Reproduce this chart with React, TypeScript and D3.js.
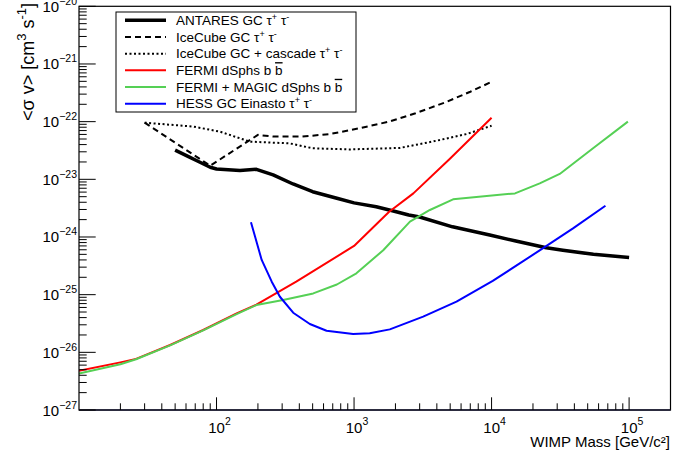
import * as d3 from "d3"

// ---- data ----
const antaresMass = [50, 62, 72, 90, 100, 148, 195, 258, 360, 500, 750, 1000, 1450, 1900, 2500, 3000, 5200, 9700, 15000, 25000, 33000, 55000, 100000]
const antaresSigma = [3.2e-23, 2.5e-23, 2.1e-23, 1.62e-23, 1.51e-23, 1.42e-23, 1.49e-23, 1.19e-23, 8.3e-24, 6.1e-24, 4.7e-24, 3.9e-24, 3.35e-24, 2.85e-24, 2.4e-24, 2.22e-24, 1.5e-24, 1.08e-24, 8.5e-25, 6.5e-25, 5.9e-25, 5.0e-25, 4.4e-25]

const icecubeMass = [30, 90, 200, 260, 420, 670, 1100, 1800, 2800, 4700, 7000, 10000]
const icecubeSigma = [9.6e-23, 1.72e-23, 5.9e-23, 5.5e-23, 5.5e-23, 6.1e-23, 7.7e-23, 1.0e-22, 1.4e-22, 2.2e-22, 3.3e-22, 4.9e-22]

const cascadeMass = [30, 68, 106, 175, 340, 500, 930, 2150, 3700, 6600, 10000]
const cascadeSigma = [9.6e-23, 8.2e-23, 6.7e-23, 4.5e-23, 4.2e-23, 3.45e-23, 3.3e-23, 3.5e-23, 4.5e-23, 6.1e-23, 8.5e-23]

const fermiMass = [10, 20, 26, 46, 80, 140, 195, 380, 1000, 1800, 2700, 5000, 10000]
const fermiSigma = [4.8e-27, 6.7e-27, 7.7e-27, 1.34e-26, 2.44e-26, 4.75e-26, 6.7e-26, 1.68e-25, 7.0e-25, 2.74e-24, 5.7e-24, 2.3e-23, 1.17e-22]

const magicMass = [10, 20, 26, 46, 80, 140, 195, 305, 505, 750, 1040, 1630, 2550, 3560, 5250, 14800, 22400, 31300, 54700, 98000]
const magicSigma = [4.3e-27, 6.2e-27, 7.6e-27, 1.32e-26, 2.4e-26, 4.6e-26, 6.6e-26, 8.1e-26, 1.05e-25, 1.5e-25, 2.34e-25, 5.9e-25, 1.85e-24, 2.94e-24, 4.5e-24, 5.7e-24, 8.5e-24, 1.24e-23, 3.45e-23, 1.0e-22]

const hessMass = [178, 213, 252, 289, 361, 477, 631, 985, 1300, 1820, 3180, 5560, 10200, 23700, 39100, 67300]
const hessSigma = [1.8e-24, 4.0e-25, 1.68e-25, 9.2e-26, 4.86e-26, 3.1e-26, 2.37e-26, 2.08e-26, 2.14e-26, 2.5e-26, 4.15e-26, 7.55e-26, 1.73e-25, 6.4e-25, 1.41e-24, 3.48e-24]

const xDecades = [2, 3, 4, 5]
const yDecades = [-27, -26, -25, -24, -23, -22, -21, -20]

const font = "'Liberation Sans', Arial, Helvetica, sans-serif"

const series = [
  { mass: antaresMass, sigma: antaresSigma, color: "#000000", width: 3.5, dash: "", label: "ANTARES GC", ch: "tau" },
  { mass: icecubeMass, sigma: icecubeSigma, color: "#000000", width: 2, dash: "6,4", label: "IceCube GC", ch: "tau" },
  { mass: cascadeMass, sigma: cascadeSigma, color: "#000000", width: 2, dash: "2,2.5", label: "IceCube GC + cascade", ch: "tau" },
  { mass: fermiMass, sigma: fermiSigma, color: "#ff0000", width: 2, dash: "", label: "FERMI dSphs", ch: "bb" },
  { mass: magicMass, sigma: magicSigma, color: "#55d055", width: 2, dash: "", label: "FERMI + MAGIC dSphs", ch: "bb" },
  { mass: hessMass, sigma: hessSigma, color: "#0000ff", width: 2, dash: "", label: "HESS GC Einasto", ch: "tau" },
]

const left = 79
const right = 670.5
const top = 6.3
const bottom = 410

const App = () => {
  const x = d3.scaleLog().domain([10, 2e5]).range([left, right])
  const y = d3.scaleLog().domain([1e-27, 1e-20]).range([bottom, top])

  const line = d3
    .line<[number, number]>()
    .x((d) => x(d[0]))
    .y((d) => y(d[1]))

  const xMinor: number[] = []
  for (let e = 1; e <= 5; e++) {
    for (let k = 2; k <= 9; k++) {
      const v = k * Math.pow(10, e)
      if (v < 2e5) xMinor.push(v)
    }
  }
  const yMinor: number[] = []
  for (let e = -27; e < -20; e++) {
    for (let k = 2; k <= 9; k++) yMinor.push(k * Math.pow(10, e))
  }

  const legendTop = 12
  const rowH = 100 / 6

  return (
    <svg
      width={700}
      height={457}
      style={{ position: "absolute", left: 0, top: 0, background: "#fff" }}
      fontFamily={font}
    >
      <rect x={0} y={0} width={700} height={457} fill="#fff" />

      <defs>
        <clipPath id="plot">
          <rect x={left} y={top} width={right - left} height={bottom - top} />
        </clipPath>
      </defs>

      {/* curves */}
      <g clipPath="url(#plot)" fill="none">
        {series.map((s, i) => (
          <path
            key={i}
            d={line(s.mass.map((m, j) => [m, s.sigma[j]] as [number, number])) || ""}
            stroke={s.color}
            strokeWidth={s.width}
            strokeDasharray={s.dash || undefined}
            strokeLinejoin="round"
          />
        ))}
      </g>

      {/* frame */}
      <rect x={left} y={top} width={right - left} height={bottom - top} fill="none" stroke="#000" strokeWidth={1.2} />
      <line x1={left} x2={right} y1={bottom} y2={bottom} stroke="#1a1a33" strokeWidth={1.6} />

      {/* x ticks */}
      <g stroke="#000" strokeWidth={1}>
        {xMinor.map((v, i) => (
          <line key={i} x1={x(v)} x2={x(v)} y1={bottom} y2={bottom - 6.7} />
        ))}
        {xDecades.map((e) => (
          <line key={e} x1={x(Math.pow(10, e))} x2={x(Math.pow(10, e))} y1={bottom} y2={bottom - 12.7} />
        ))}
      </g>
      {xDecades.map((e) => (
        <text key={e} x={x(Math.pow(10, e)) + 3} y={433} fontSize={15} textAnchor="middle" fill="#000">
          10
          <tspan dy={-8} fontSize={10.5}>
            {e}
          </tspan>
        </text>
      ))}

      {/* y ticks */}
      <g stroke="#000" strokeWidth={1}>
        {yMinor.map((v, i) => (
          <line key={i} x1={left} x2={left + 7.7} y1={y(v)} y2={y(v)} />
        ))}
        {yDecades.map((e) => (
          <line key={e} x1={left} x2={left + 16.7} y1={y(Math.pow(10, e))} y2={y(Math.pow(10, e))} />
        ))}
      </g>
      {yDecades.map((e) => (
        <text key={e} x={77} y={y(Math.pow(10, e)) + 5.5} fontSize={15} textAnchor="end" fill="#000">
          10
          <tspan dy={-7} fontSize={10.5}>
            {"\u2212" + Math.abs(e)}
          </tspan>
        </text>
      ))}

      {/* axis titles */}
      <text x={670} y={447} fontSize={15} textAnchor="end" fill="#000">
        WIMP Mass [GeV/c²]
      </text>
      <text transform="translate(34,3) rotate(-90)" fontSize={18} textAnchor="end" fill="#000">
        {"<σ v> [cm"}
        <tspan dy={-8} fontSize={13}>
          3
        </tspan>
        <tspan dy={8}> s</tspan>
        <tspan dy={-8} fontSize={13}>
          -1
        </tspan>
        <tspan dy={8}>]</tspan>
      </text>

      {/* legend */}
      <rect x={116} y={legendTop} width={240} height={100} fill="#fff" stroke="#000" strokeWidth={1} />
      {series.map((s, i) => {
        const cy = legendTop + rowH * (i + 0.5)
        return (
          <g key={i}>
            <line
              x1={125}
              x2={166}
              y1={cy}
              y2={cy}
              stroke={s.color}
              strokeWidth={s.width}
              strokeDasharray={s.dash || undefined}
            />
            <text x={176} y={cy + 4.8} fontSize={13.5} fill="#000">
              {s.label + " "}
              {s.ch === "tau" ? (
                <>
                  τ
                  <tspan dy={-5} fontSize={9}>
                    +
                  </tspan>
                  <tspan dy={5}> τ</tspan>
                  <tspan dy={-5} fontSize={9}>
                    -
                  </tspan>
                </>
              ) : (
                <>
                  b{" "}
                  <tspan style={{ textDecoration: "overline" }}>b</tspan>
                </>
              )}
            </text>
          </g>
        )
      })}
    </svg>
  )
}

export default App
